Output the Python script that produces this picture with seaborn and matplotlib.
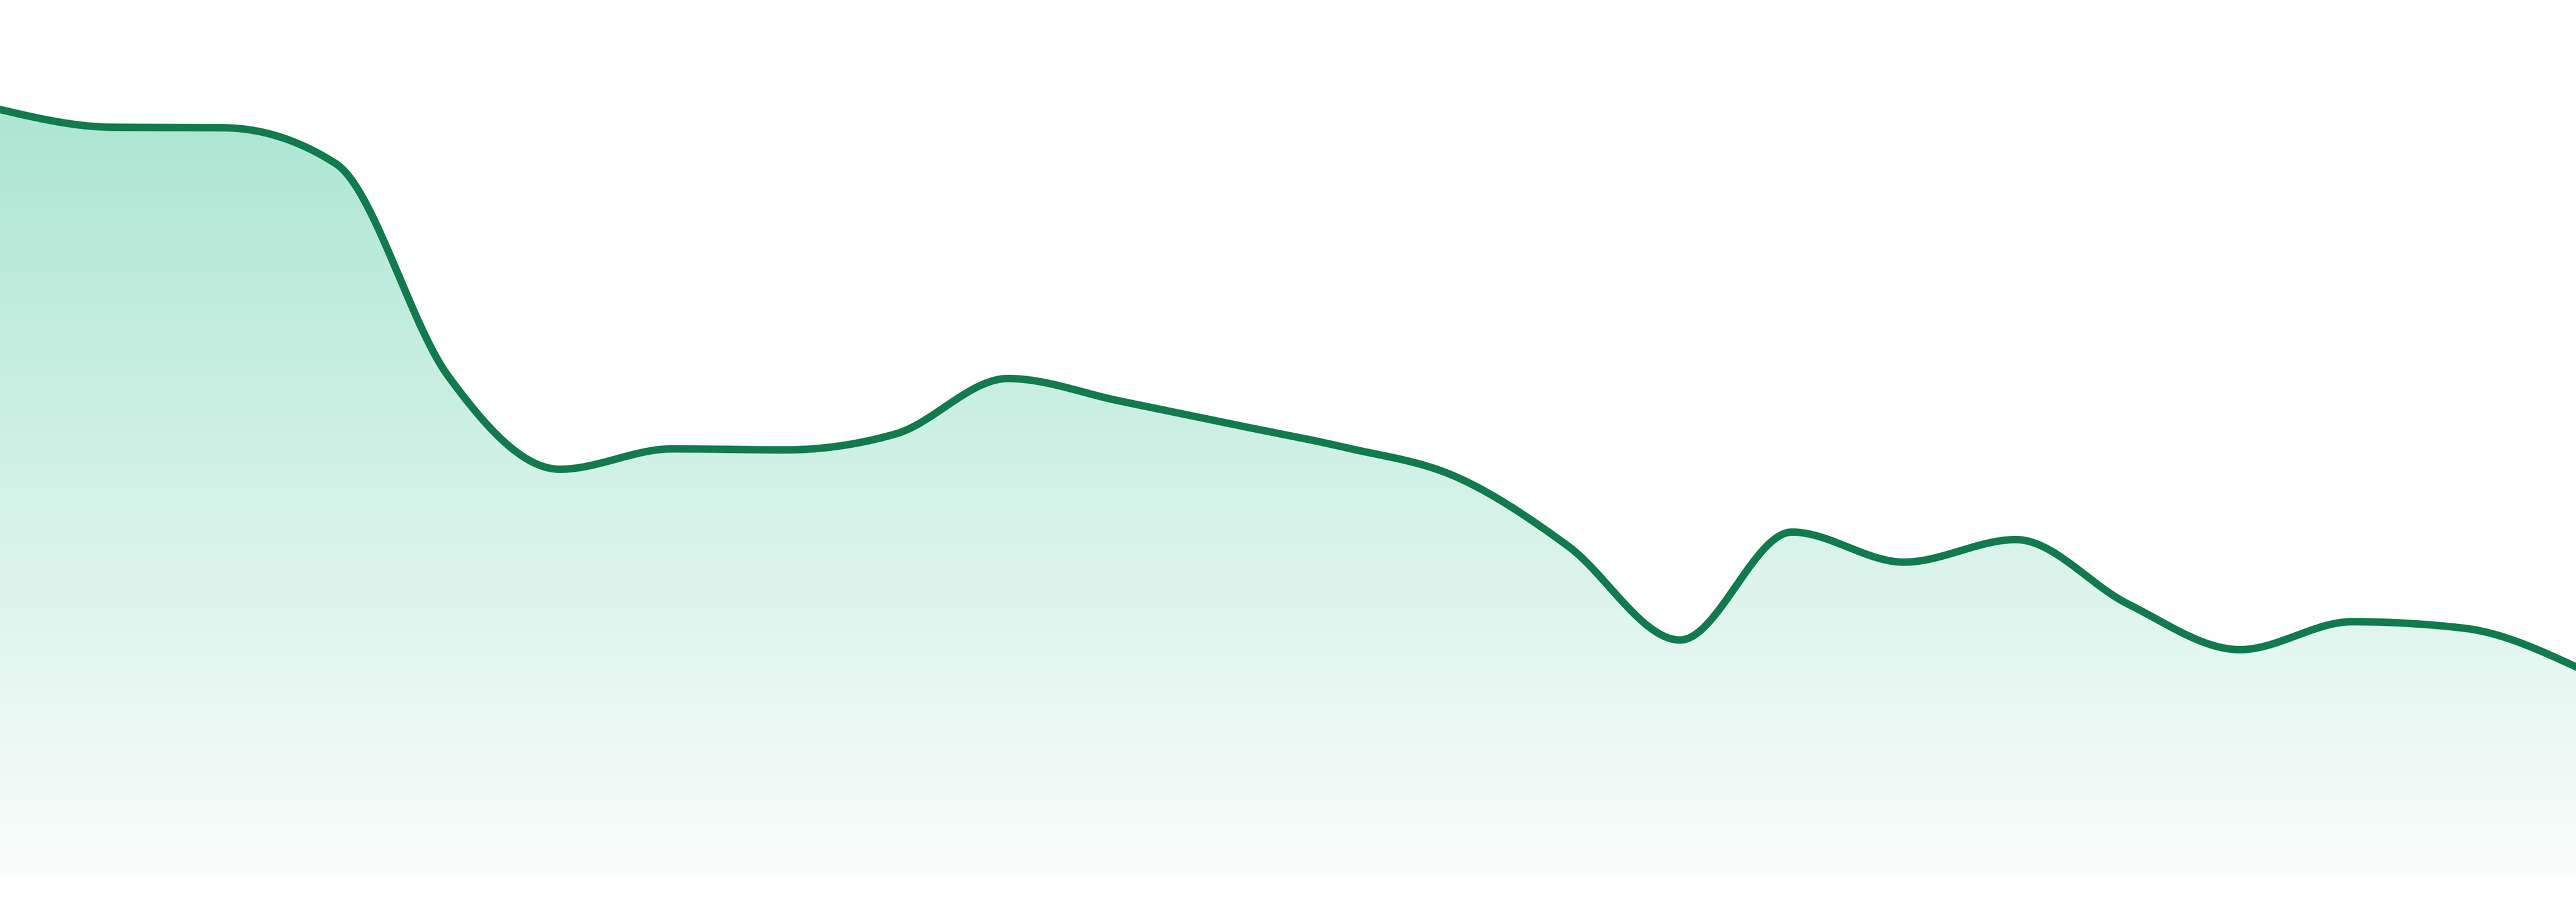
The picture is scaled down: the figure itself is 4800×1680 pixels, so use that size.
#!/usr/bin/env python3

import numpy as np
import pandas as pd
import matplotlib
matplotlib.use("Agg")
from matplotlib import pyplot as plt
import seaborn as sns


days = list(range(24))
values = [
    142.8, 139.5, 139.4, 132.7, 93.2, 75.8, 79.6, 79.4,
    82.4, 92.7, 88.5, 84.2, 79.9, 74.4, 61.5, 44.0,
    64.1, 58.5, 62.7, 50.7, 42.2, 47.4, 46.2, 39.0,
]

line_color = "#117a4f"
fill_rgb = (20 / 255, 184 / 255, 128 / 255)
y_top = 163.2


def monotone_x(x, y, samples=60):
    # same idea as d3.curveMonotoneX
    x = np.asarray(x, dtype=float)
    y = np.asarray(y, dtype=float)
    h = np.diff(x)
    s = np.diff(y) / h
    t = np.zeros_like(y)
    for i in range(1, len(y) - 1):
        p = (s[i - 1] * h[i] + s[i] * h[i - 1]) / (h[i - 1] + h[i])
        sg = (1 if s[i - 1] >= 0 else -1) + (1 if s[i] >= 0 else -1)
        t[i] = sg * min(abs(s[i - 1]), abs(s[i]), 0.5 * abs(p))
    t[0] = (3 * s[0] - t[1]) / 2
    t[-1] = (3 * s[-1] - t[-2]) / 2

    xs, ys = [], []
    for i in range(len(h)):
        u = np.linspace(0, 1, samples, endpoint=(i == len(h) - 1))
        h00 = 2 * u**3 - 3 * u**2 + 1
        h10 = u**3 - 2 * u**2 + u
        h01 = -2 * u**3 + 3 * u**2
        h11 = u**3 - u**2
        xs.append(x[i] + u * h[i])
        ys.append(h00 * y[i] + h10 * h[i] * t[i] + h01 * y[i + 1] + h11 * h[i] * t[i + 1])
    return np.concatenate(xs), np.concatenate(ys)


def make_chart():
    sns.set_theme(style="white")
    fig = plt.figure(figsize=(48, 16.8), dpi=100)
    ax = fig.add_axes([0, 48 / 1680, 1, 1632 / 1680])

    xs, ys = monotone_x(days, values)
    df = pd.DataFrame({"day": xs, "value": ys})

    # gradient fill under the curve
    grad = np.zeros((256, 1, 4))
    grad[:, :, 0], grad[:, :, 1], grad[:, :, 2] = fill_rgb
    grad[:, 0, 3] = np.linspace(0.40, 0.025, 256)
    img = ax.imshow(
        grad, extent=[days[0], days[-1], 0, y_top],
        aspect="auto", origin="upper", zorder=1,
    )
    poly = ax.fill_between(df["day"], df["value"], 0, facecolor="none", edgecolor="none")
    img.set_clip_path(poly.get_paths()[0], transform=ax.transData)

    sns.lineplot(
        data=df, x="day", y="value", ax=ax, color=line_color,
        linewidth=10, errorbar=None, sort=False, zorder=3,
    )

    ax.set_xlim(days[0], days[-1])
    ax.set_ylim(0, y_top)
    ax.set_axis_off()
    fig.savefig("out.png", dpi=100)


if __name__ == "__main__":
    make_chart()
